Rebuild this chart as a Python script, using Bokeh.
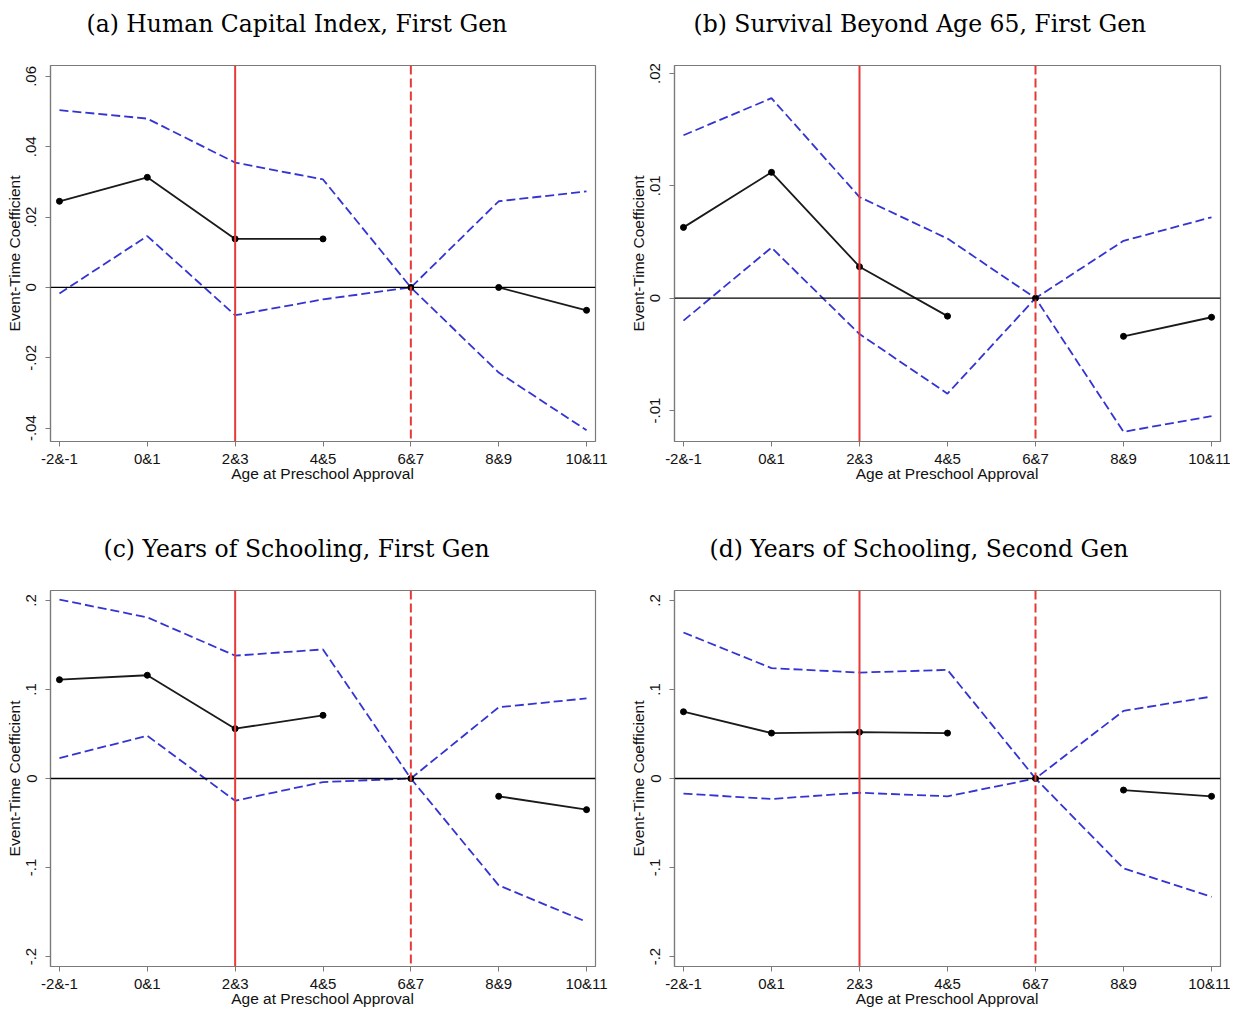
from bokeh.plotting import figure
from bokeh.layouts import column, row
from bokeh.models import Range1d, FixedTicker, Span, Title
from bokeh.embed import file_html
from bokeh.resources import INLINE

# ---------------- data ----------------
categories = ["-2&-1", "0&1", "2&3", "4&5", "6&7", "8&9", "10&11"]

titles = ["(a) Human Capital Index, First Gen",
          "(b) Survival Beyond Age 65, First Gen",
          "(c) Years of Schooling, First Gen",
          "(d) Years of Schooling, Second Gen"]

coef_a = [0.0245, 0.0313, 0.0138, 0.0138, 0.0, 0.0000, -0.0065]
upper_a = [0.0504, 0.0480, 0.0355, 0.0307, 0.0, 0.0245, 0.0273]
lower_a = [-0.0017, 0.0146, -0.0079, -0.0034, 0.0, -0.0242, -0.0406]

coef_b = [0.0063, 0.0112, 0.0028, -0.0016, 0.0, -0.0034, -0.0017]
upper_b = [0.0145, 0.0178, 0.0090, 0.0053, 0.0, 0.0051, 0.0072]
lower_b = [-0.0020, 0.0045, -0.0032, -0.0085, 0.0, -0.0119, -0.0105]

coef_c = [0.111, 0.116, 0.056, 0.071, 0.0, -0.020, -0.035]
upper_c = [0.201, 0.181, 0.138, 0.145, 0.0, 0.080, 0.090]
lower_c = [0.023, 0.048, -0.025, -0.004, 0.0, -0.120, -0.161]

coef_d = [0.075, 0.051, 0.052, 0.051, 0.0, -0.013, -0.020]
upper_d = [0.164, 0.124, 0.119, 0.122, 0.0, 0.076, 0.092]
lower_d = [-0.017, -0.023, -0.016, -0.020, 0.0, -0.101, -0.133]

yticks_a = [-0.04, -0.02, 0.0, 0.02, 0.04, 0.06]
ylabels_a = ["-.04", "-.02", "0", ".02", ".04", ".06"]
yticks_b = [-0.01, 0.0, 0.01, 0.02]
ylabels_b = ["-.01", "0", ".01", ".02"]
yticks_cd = [-0.2, -0.1, 0.0, 0.1, 0.2]
ylabels_cd = ["-.2", "-.1", "0", ".1", ".2"]

yrange_a = (-0.0438, 0.0631)
yrange_b = (-0.01276, 0.02071)
yrange_cd = (-0.2112, 0.2112)

pre_idx = [0, 1, 2, 3]
post_idx = [5, 6]
solid_at = 2   # 2&3
dashed_at = 4  # 6&7

# horizontal placement of each title (px from the frame's left edge)
title_offsets = [36, 19, 53, 35]

BLUE = "#3434d2"
RED = "#e63a36"
SANS = "Liberation Sans"
SERIF = "DejaVu Serif"


def make_panel(title, t_off, coef, upper, lower, yticks, ylabels, yrange,
               frame_w, left, right, top, bottom):
    x = list(range(len(categories)))
    p = figure(frame_width=frame_w, frame_height=376,
               x_range=Range1d(-0.102, 6.102), y_range=Range1d(*yrange),
               output_backend="svg", toolbar_location=None,
               min_border_left=left, min_border_right=right,
               min_border_top=top, min_border_bottom=bottom,
               background_fill_color="white", border_fill_color="white")
    # second (blank) line keeps the title clear of the frame
    p.title = Title(text=title + "\n ", align="left", offset=t_off,
                    text_font=SERIF, text_font_size="23.5px",
                    text_font_style="normal", text_color="black",
                    standoff=0, vertical_align="bottom")
    p.grid.visible = False
    p.outline_line_color = "#7a7a7a"
    p.outline_line_width = 1.2

    # axes
    xa = p.below[0]
    ya = p.left[0]
    xa.ticker = FixedTicker(ticks=x)
    xa.major_label_overrides = {i: c for i, c in enumerate(categories)}
    ya.ticker = FixedTicker(ticks=yticks)
    ya.major_label_overrides = {t: l for t, l in zip(yticks, ylabels)}
    ya.major_label_orientation = "vertical"
    xa.axis_label = "Age at Preschool Approval"
    ya.axis_label = "Event-Time Coefficient"
    for ax in (xa, ya):
        ax.minor_tick_line_color = None
        ax.axis_line_color = "#7a7a7a"
        ax.axis_line_width = 1.2
        ax.major_tick_line_color = "#7a7a7a"
        ax.major_tick_out = 5
        ax.major_tick_in = 0
        ax.major_label_text_font = SANS
        ax.major_label_text_font_size = "15px"
        ax.major_label_text_color = "#111111"
        ax.axis_label_text_font = SANS
        ax.axis_label_text_font_size = "15.5px"
        ax.axis_label_text_font_style = "normal"
        ax.axis_label_text_color = "#111111"
    xa.major_label_standoff = 3
    xa.axis_label_standoff = -5
    ya.major_label_standoff = 9
    ya.axis_label_standoff = 1

    # reference lines
    p.add_layout(Span(location=0, dimension="width", line_color="black",
                      line_width=1.3))
    p.add_layout(Span(location=solid_at, dimension="height", line_color=RED,
                      line_width=2))
    p.add_layout(Span(location=dashed_at, dimension="height", line_color=RED,
                      line_width=2, line_dash="9 4"))

    # confidence bands
    p.line(x, upper, line_color=BLUE, line_width=1.8, line_dash="9 4")
    p.line(x, lower, line_color=BLUE, line_width=1.8, line_dash="9 4")

    # point estimates
    p.line([x[i] for i in pre_idx], [coef[i] for i in pre_idx],
           line_color="#1a1a1a", line_width=1.8)
    p.line([x[i] for i in post_idx], [coef[i] for i in post_idx],
           line_color="#1a1a1a", line_width=1.8)
    p.scatter(x, coef, size=6, fill_color="black", line_color="black")
    return p


pa = make_panel(titles[0], title_offsets[0], coef_a, upper_a, lower_a,
                yticks_a, ylabels_a, yrange_a, 545, 50, 29, 65, 84)
pb = make_panel(titles[1], title_offsets[1], coef_b, upper_b, lower_b,
                yticks_b, ylabels_b, yrange_b, 546, 50, 10, 65, 84)
pc = make_panel(titles[2], title_offsets[2], coef_c, upper_c, lower_c,
                yticks_cd, ylabels_cd, yrange_cd, 545, 50, 29, 65, 43)
pd_ = make_panel(titles[3], title_offsets[3], coef_d, upper_d, lower_d,
                 yticks_cd, ylabels_cd, yrange_cd, 546, 50, 10, 65, 43)

layout = column(row(pa, pb), row(pc, pd_))

open("out.html", "w").write(file_html(layout, INLINE))
